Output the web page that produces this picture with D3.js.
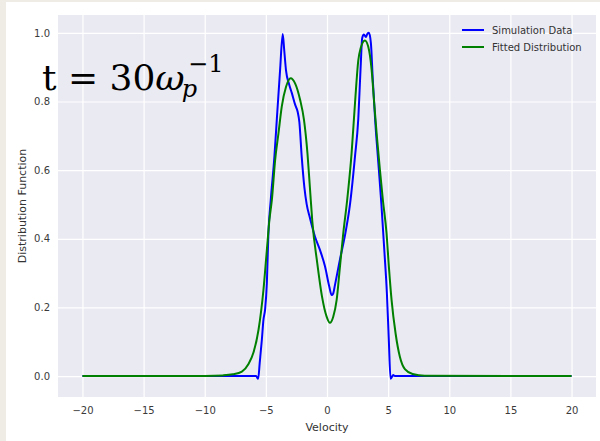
<!DOCTYPE html>
<html>
<head>
<meta charset="utf-8">
<script src="https://cdn.jsdelivr.net/npm/d3@7"></script>
<style>
  html, body { margin: 0; padding: 0; background: #efece6; }
  svg { display: block; }
</style>
</head>
<body>
<script>
// x tick values / y tick values
var xTicks = [-20, -15, -10, -5, 0, 5, 10, 15, 20];
var yTicks = [0.0, 0.2, 0.4, 0.6, 0.8, 1.0];

// simulation data
var simVelocity = [-20, -10, -6.0, -5.8, -5.63, -5.5, -5.33, -5.2, -5.06, -4.92, -4.79, -4.6, -4.3, -4.1, -3.84, -3.62, -3.5, -3.35, -3.1, -2.88, -2.6, -2.4, -2.26, -2.07, -1.85, -1.66, -1.39, -0.98, -0.57, -0.16, 0.19, 0.38, 0.5, 0.65, 1.06, 1.47, 1.88, 2.29, 2.56, 2.75, 2.88, 3.02, 3.18, 3.3, 3.43, 3.59, 3.75, 3.95, 4.2, 4.45, 4.7, 4.9, 5.05, 5.2, 5.32, 5.41, 5.55, 20];
var simValue = [0, 0, 0, 0, -0.008, 0.04, 0.105, 0.163, 0.195, 0.27, 0.417, 0.513, 0.64, 0.75, 0.89, 0.997, 0.95, 0.89, 0.85, 0.825, 0.79, 0.77, 0.74, 0.64, 0.55, 0.5, 0.46, 0.406, 0.367, 0.319, 0.26, 0.236, 0.24, 0.265, 0.34, 0.41, 0.5, 0.64, 0.75, 0.9, 0.985, 0.995, 0.988, 0.997, 1.0, 0.97, 0.86, 0.74, 0.62, 0.5, 0.36, 0.24, 0.11, -0.008, -0.002, 0.003, 0, 0];

// fitted distribution
var fitVelocity = [-20, -10, -8.5, -7.7, -6.96, -6.42, -6.0, -5.6, -5.2, -4.92, -4.71, -4.51, -4.24, -3.97, -3.7, -3.35, -2.97, -2.61, -2.2, -1.88, -1.6, -1.4, -1.2, -0.8, -0.4, -0.03, 0.24, 0.51, 0.79, 1.06, 1.33, 1.65, 2.01, 2.29, 2.56, 2.75, 3.1, 3.37, 3.65, 3.86, 4.08, 4.33, 4.57, 4.87, 5.06, 5.28, 5.61, 5.96, 6.37, 7.0, 8.0, 20];
var fitValue = [0, 0.0005, 0.002, 0.005, 0.013, 0.035, 0.07, 0.135, 0.25, 0.367, 0.455, 0.513, 0.63, 0.707, 0.785, 0.843, 0.868, 0.853, 0.805, 0.746, 0.65, 0.55, 0.45, 0.33, 0.23, 0.173, 0.155, 0.173, 0.222, 0.319, 0.416, 0.513, 0.649, 0.795, 0.92, 0.955, 0.978, 0.96, 0.892, 0.795, 0.698, 0.6, 0.513, 0.416, 0.319, 0.222, 0.124, 0.056, 0.02, 0.006, 0.001, 0];

var seriesNames = ['Simulation Data', 'Fitted Distribution'];
var seriesColors = ['#0000ff', '#008000'];

var W = 600, H = 441;
var plot = { left: 58, top: 15, right: 596, bottom: 397 };

var svg = d3.select('body').append('svg')
  .attr('width', W)
  .attr('height', H);

// white figure (beige strip on top/left like the screenshot)
svg.append('rect')
  .attr('x', 6).attr('y', 2)
  .attr('width', W - 6).attr('height', H - 2)
  .attr('fill', '#ffffff');

var x = d3.scaleLinear().domain([-22, 22]).range([plot.left, plot.right]);
var y = d3.scaleLinear().domain([-0.061, 1.052]).range([plot.bottom, plot.top]);

// axes background
svg.append('rect')
  .attr('x', plot.left).attr('y', plot.top)
  .attr('width', plot.right - plot.left)
  .attr('height', plot.bottom - plot.top)
  .attr('fill', '#eaeaf2');

// grid lines
svg.append('g')
  .attr('transform', `translate(0, ${plot.bottom})`)
  .call(d3.axisBottom(x).tickValues(xTicks).tickSize(-(plot.bottom - plot.top)).tickFormat(''))
  .call(g => g.select('.domain').remove())
  .selectAll('line').attr('stroke', '#ffffff').attr('stroke-width', 1.2);

svg.append('g')
  .attr('transform', `translate(${plot.left}, 0)`)
  .call(d3.axisLeft(y).tickValues(yTicks).tickSize(-(plot.right - plot.left)).tickFormat(''))
  .call(g => g.select('.domain').remove())
  .selectAll('line').attr('stroke', '#ffffff').attr('stroke-width', 1.2);

// tick labels
var xAxis = svg.append('g')
  .attr('transform', `translate(0, ${plot.bottom})`)
  .call(d3.axisBottom(x).tickValues(xTicks).tickSize(0).tickPadding(10).tickFormat(d3.format('d')));
xAxis.select('.domain').remove();
xAxis.selectAll('text')
  .attr('font-family', 'DejaVu Sans').attr('font-size', 10).attr('fill', '#3a3a3a');

var yAxis = svg.append('g')
  .attr('transform', `translate(${plot.left}, 0)`)
  .call(d3.axisLeft(y).tickValues(yTicks).tickSize(0).tickPadding(8).tickFormat(d3.format('.1f')));
yAxis.select('.domain').remove();
yAxis.selectAll('text')
  .attr('font-family', 'DejaVu Sans').attr('font-size', 10).attr('fill', '#3a3a3a');

// axis labels
svg.append('text')
  .attr('x', x(0)).attr('y', 431)
  .attr('text-anchor', 'middle')
  .attr('font-family', 'DejaVu Sans').attr('font-size', 11).attr('fill', '#333')
  .text('Velocity');

svg.append('text')
  .attr('transform', `translate(26, ${(plot.top + plot.bottom) / 2}) rotate(-90)`)
  .attr('text-anchor', 'middle')
  .attr('font-family', 'DejaVu Sans').attr('font-size', 11).attr('fill', '#333')
  .text('Distribution Function');

// lines
var line = d3.line()
  .x(function(d) { return x(d[0]); })
  .y(function(d) { return y(d[1]); })
  .curve(d3.curveMonotoneX);

var simData = simVelocity.map(function(v, i) { return [v, simValue[i]]; });
var fitData = fitVelocity.map(function(v, i) { return [v, fitValue[i]]; });

var gLines = svg.append('g');
[simData, fitData].forEach(function(data, i) {
  gLines.append('path')
    .datum(data)
    .attr('fill', 'none')
    .attr('stroke', seriesColors[i])
    .attr('stroke-width', 2)
    .attr('stroke-linejoin', 'round')
    .attr('d', line);
});

// legend
var legend = svg.append('g').attr('transform', 'translate(462, 30)');
seriesNames.forEach(function(name, i) {
  var row = legend.append('g').attr('transform', `translate(0, ${i * 17})`);
  row.append('line')
    .attr('x1', 0).attr('x2', 22).attr('y1', 0).attr('y2', 0)
    .attr('stroke', seriesColors[i]).attr('stroke-width', 2);
  row.append('text')
    .attr('x', 30).attr('y', 0).attr('dy', '0.35em')
    .attr('font-family', 'DejaVu Sans').attr('font-size', 10).attr('fill', '#333')
    .text(name);
});

// time annotation  t = 30 ω_p^-1
var ann = svg.append('text')
  .attr('font-family', 'DejaVu Serif').attr('font-size', 36).attr('fill', '#000');
ann.append('tspan').attr('x', 42).attr('y', 90).text('t = 30');
ann.append('tspan').attr('font-style', 'italic').text('ω');
ann.append('tspan').attr('font-style', 'italic').attr('font-size', 24).attr('dx', -3).attr('dy', 7).text('p');
ann.append('tspan').attr('font-size', 24).attr('dx', -9).attr('dy', -25).text('−1');
</script>
</body>
</html>
